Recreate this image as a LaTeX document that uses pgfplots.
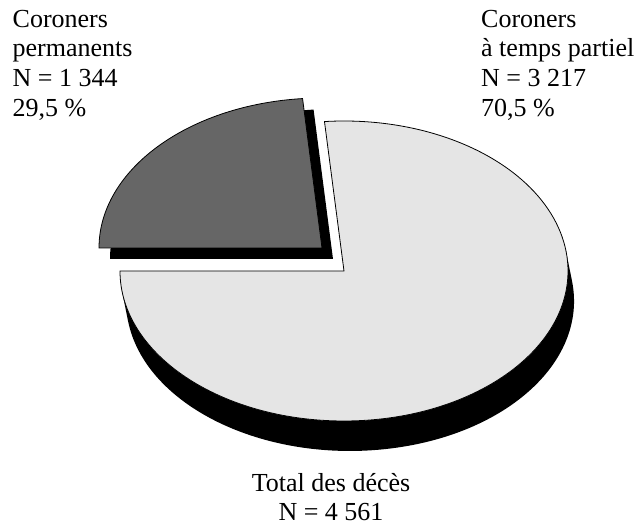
\documentclass[border=0pt]{standalone}
\usepackage{pgfplots}
\pgfplotsset{compat=1.18}
\usepackage{fontspec}
\setmainfont{Liberation Serif}
\definecolor{lightslice}{HTML}{E5E5E5}
\definecolor{darkslice}{HTML}{666666}
\begin{document}
\begin{tikzpicture}
\begin{axis}[
  x=1pt, y=1pt,
  xmin=0, xmax=638, ymin=0, ymax=525,
  axis lines=none, ticks=none, clip=false,
]
\path (axis cs:0,0) rectangle (axis cs:638,525);
% values: permanents N=1344 (29.5%), partiel N=3217 (70.5%), total 4561
% extrusion of the large slice
\fill[black] (axis cs:566.0,273.8) arc[start angle=7.6, end angle=-172.4, x radius=224pt, y radius=150pt]
  -- (axis cs:128.0,204.2) arc[start angle=187.6, end angle=367.6, x radius=224pt, y radius=150pt] -- cycle;
% large slice (70.5 %)
\filldraw[fill=lightslice, draw=black, line width=0.8pt, line join=miter]
  (axis cs:344,254) -- (axis cs:120,254) arc[start angle=180, end angle=455, x radius=224pt, y radius=150pt] -- cycle;
% shadow of the exploded slice
\fill[black] (axis cs:333,266) -- (axis cs:110,266) arc[start angle=180, end angle=95, x radius=223pt, y radius=150pt] -- cycle;
% exploded slice (29.5 %)
\filldraw[fill=darkslice, draw=black, line width=0.8pt, line join=miter]
  (axis cs:322,277) -- (axis cs:99,277) arc[start angle=180, end angle=95, x radius=223pt, y radius=150pt] -- cycle;
% labels
\begin{scope}[every node/.style={font=\fontsize{26}{29.5}\selectfont, inner sep=0pt}]
\node[anchor=base west] at (axis cs:12.5,497.5) {Coroners};
\node[anchor=base west] at (axis cs:12.5,468) {permanents};
\node[anchor=base west] at (axis cs:12.5,438) {N = 1 344};
\node[anchor=base west] at (axis cs:12.5,408) {29,5 \%};
\node[anchor=base west] at (axis cs:481,497.5) {Coroners};
\node[anchor=base west] at (axis cs:481,468) {à temps partiel};
\node[anchor=base west] at (axis cs:481,438) {N = 3 217};
\node[anchor=base west] at (axis cs:481,408) {70,5 \%};
\node[anchor=base] at (axis cs:331,33) {Total des décès};
\node[anchor=base] at (axis cs:331,4) {N = 4 561};
\end{scope}
\end{axis}
\end{tikzpicture}
\end{document}
